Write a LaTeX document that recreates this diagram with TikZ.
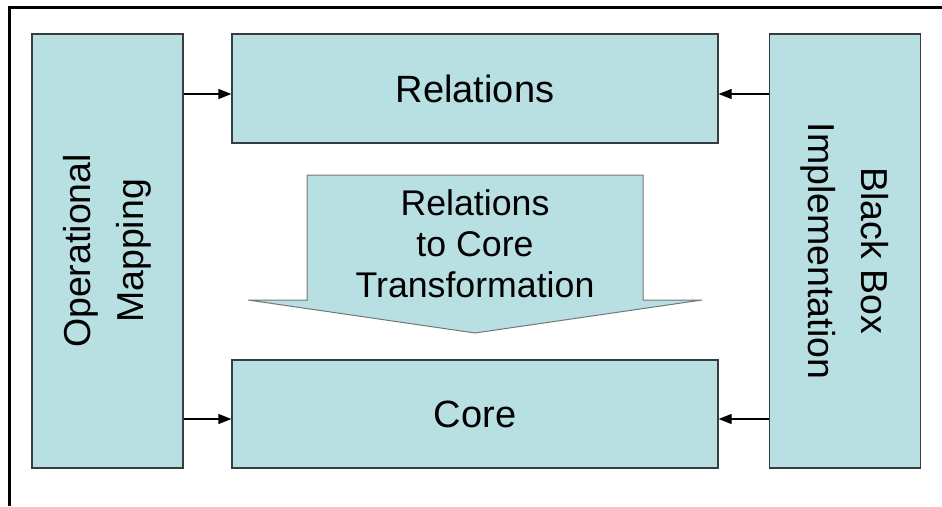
\documentclass[tikz,border=0pt]{standalone}
\usepackage{fontspec}
\setmainfont{Liberation Sans}
\usetikzlibrary{arrows.meta}
\definecolor{boxfill}{RGB}{184,223,226}
\definecolor{boxline}{RGB}{55,60,62}

\begin{document}
\begin{tikzpicture}[->,>={Triangle[length=13pt,width=10pt]},x=1pt,y=-1pt,
		line width=1.3pt,
		main node/.style={rectangle,draw=boxline,fill=boxfill,inner sep=0pt,
			font=\fontsize{38}{44}\selectfont},
		side node/.style={main node,minimum width=434pt,minimum height=151pt,
			align=center,font=\fontsize{37.5}{53}\selectfont}]

		\useasboundingbox (0,0) rectangle (942,506);
		\draw[-,line width=3pt] (9,506) -- (9,7) -- (942,7);

		\node[side node,rotate=90] (oper) at (107.5,251) {Operational\\Mapping};
		\node[side node,rotate=-90] (bbox) at (845,251) {Black Box\\Implementation};
		\node[main node,minimum width=486pt,minimum height=109pt] (rel) at (475,88.5) {Relations};
		\node[main node,minimum width=486pt,minimum height=108pt] (core) at (475,414) {Core};

		% big arrow between the two layers
		\draw[-,draw=boxline!70,fill=boxfill,line width=1pt]
		(307,175) -- (643,175) -- (643,300) -- (702,300) -- (475,333)
		-- (248,300) -- (307,300) -- cycle;
		\node[align=center,font=\fontsize{35.7}{41}\selectfont] (trans) at (475,244)
		{Relations\\to Core\\Transformation};

		\coordinate (r1) at ([yshift=-5.5pt]rel.west);
		\coordinate (r2) at ([yshift=-5.5pt]rel.east);
		\coordinate (c1) at ([yshift=-5pt]core.west);
		\coordinate (c2) at ([yshift=-5pt]core.east);

		\draw (oper.south |- r1) -- (r1);
		\draw (oper.south |- c1) -- (c1);
		\draw (bbox.south |- r2) -- (r2);
		\draw (bbox.south |- c2) -- (c2);
\end{tikzpicture}
\end{document}
